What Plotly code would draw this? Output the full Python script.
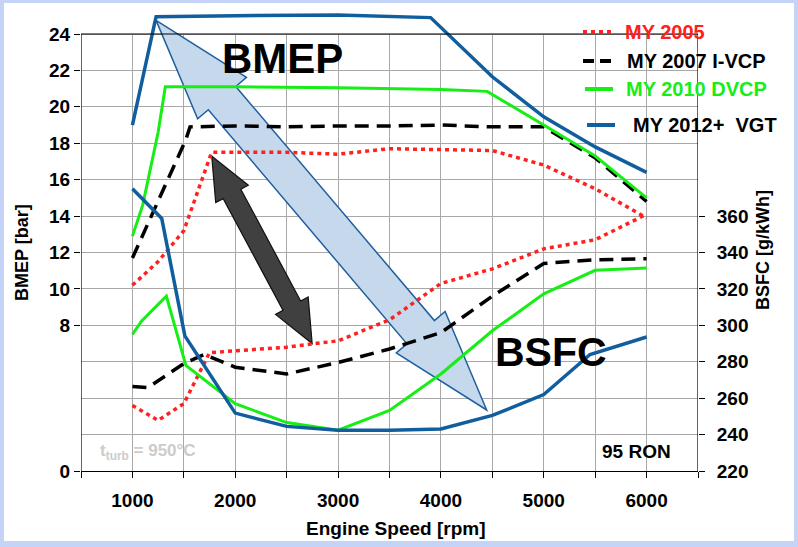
import math
import plotly.graph_objects as go

FONT = "Liberation Sans, Arial, sans-serif"

# ---------------- data ----------------
# BMEP [bar] (left axis)
rpm_bmep_2005 = [1000, 1250, 1500, 1770, 2000, 2500, 3000, 3500, 4000, 4500, 5000, 5500, 6000]
bmep_2005 = [10.2, 11.5, 13.2, 17.5, 17.5, 17.5, 17.4, 17.7, 17.65, 17.6, 16.8, 15.5, 13.9]

rpm_bmep_2007 = [1000, 1520, 1560, 2000, 2500, 3000, 3500, 4000, 4500, 5000, 5500, 6000]
bmep_2007 = [11.7, 18.2, 18.9, 18.95, 18.9, 18.95, 18.95, 19.0, 18.9, 18.9, 17.2, 14.8]

rpm_bmep_2010 = [1000, 1100, 1250, 1320, 2000, 3000, 4000, 4450, 5000, 5500, 6000]
bmep_2010 = [12.9, 14.6, 18.6, 21.1, 21.1, 21.05, 20.95, 20.85, 19.0, 17.3, 15.0]

rpm_bmep_2012 = [1000, 1230, 2000, 3000, 3900, 4500, 5000, 5500, 6000]
bmep_2012 = [19.0, 24.95, 25.0, 25.05, 24.9, 21.65, 19.45, 17.8, 16.4]

# BSFC [g/kWh] (right axis)
rpm_bsfc_2005 = [1000, 1250, 1500, 1750, 2000, 2500, 3000, 3500, 4000, 4500, 5000, 5500, 6000]
bsfc_2005 = [256, 247.8, 257, 285, 286, 288, 291.5, 303, 323, 331, 342, 347, 361]

rpm_bsfc_2007 = [1000, 1150, 1500, 1700, 2000, 2500, 3000, 3500, 4000, 4500, 5000, 5500, 6000]
bsfc_2007 = [266.4, 265.8, 279, 284, 277, 273.3, 279.6, 287, 296, 316, 334, 336, 336.6]

rpm_bsfc_2010 = [1000, 1090, 1330, 1520, 2000, 2500, 3000, 3500, 4000, 4500, 5000, 5500, 6000]
bsfc_2010 = [295, 302.4, 316, 278, 257, 246.6, 242.4, 253.3, 273.3, 297, 317.3, 330.2, 331.5]

rpm_bsfc_2012 = [1000, 1285, 1510, 2000, 2500, 3000, 3500, 4000, 4500, 5000, 5450, 6000]
bsfc_2012 = [375, 358.7, 294.2, 251.8, 244.5, 242.4, 242.4, 243.1, 250.5, 262, 284, 293.6]

series_names = ["MY 2005", "MY 2007 I-VCP", "MY 2010 DVCP", "MY 2012+  VGT"]
series_colors = ["#ff2020", "#000000", "#16ee16", "#115e9e"]
legend_text_colors = ["#ff2020", "#000000", "#16ee16", "#000000"]

x_tick_vals = [1000, 2000, 3000, 4000, 5000, 6000]
y_tick_vals = [0, 8, 10, 12, 14, 16, 18, 20, 22, 24]
y2_tick_vals = [220, 240, 260, 280, 300, 320, 340, 360]

# ---------------- geometry ----------------
W, H = 798, 547
L, R, T, B = 81, 100, 10, 76
plot_w = W - L - R
plot_h = H - T - B
X_RANGE = [500, 6500]
PX_PER_BAR = 437 / 24.0
Y_TOP = plot_h / PX_PER_BAR
Y2_RANGE = [220, 220 + Y_TOP * 10]
BASE = H - B


def d2px(x, y):
    return (L + (x - X_RANGE[0]) / (X_RANGE[1] - X_RANGE[0]) * plot_w,
            BASE - y * PX_PER_BAR)


def px2d(px, py):
    return (X_RANGE[0] + (px - L) / plot_w * (X_RANGE[1] - X_RANGE[0]),
            (BASE - py) / PX_PER_BAR)


def pxp(px, py):
    return (px - L) / plot_w, (BASE - py) / plot_h


def double_arrow(p0, p1, shaft, head, hlen):
    x0, y0 = d2px(*p0)
    x1, y1 = d2px(*p1)
    dx, dy = x1 - x0, y1 - y0
    ln = math.hypot(dx, dy)
    ux, uy = dx / ln, dy / ln
    nx, ny = -uy, ux

    def P(t, s):
        return (x0 + ux * t + nx * s, y0 + uy * t + ny * s)

    pts = [P(0, 0), P(hlen, head / 2), P(hlen, shaft / 2), P(ln - hlen, shaft / 2),
           P(ln - hlen, head / 2), P(ln, 0), P(ln - hlen, -head / 2),
           P(ln - hlen, -shaft / 2), P(hlen, -shaft / 2), P(hlen, -head / 2)]
    dat = [px2d(*p) for p in pts]
    return "M " + " L ".join(f"{a:.2f},{b:.4f}" for a, b in dat) + " Z"


fig = go.Figure()

bmep_sets = [(rpm_bmep_2005, bmep_2005), (rpm_bmep_2007, bmep_2007),
             (rpm_bmep_2010, bmep_2010), (rpm_bmep_2012, bmep_2012)]
bsfc_sets = [(rpm_bsfc_2005, bsfc_2005), (rpm_bsfc_2007, bsfc_2007),
             (rpm_bsfc_2010, bsfc_2010), (rpm_bsfc_2012, bsfc_2012)]
dashes = ["4px,4px", "14px,8px", "solid", "solid"]
widths = [3.5, 3.5, 3, 3.5]

for i in range(4):
    line = dict(color=series_colors[i], width=widths[i], dash=dashes[i])
    fig.add_trace(go.Scatter(x=bmep_sets[i][0], y=bmep_sets[i][1], mode="lines",
                             line=line, name=series_names[i], showlegend=False,
                             yaxis="y"))
    fig.add_trace(go.Scatter(x=bsfc_sets[i][0], y=bsfc_sets[i][1], mode="lines",
                             line=line, name=series_names[i], showlegend=False,
                             yaxis="y2"))

GRID = "#a8a8a8"
tickfont = dict(family=FONT, size=19, color="black", weight="bold")

fig.update_layout(
    width=W, height=H,
    margin=dict(l=L, r=R, t=T, b=B, pad=0),
    paper_bgcolor="#c4d4f8",
    plot_bgcolor="white",
    xaxis=dict(range=X_RANGE, tickvals=x_tick_vals, ticks="outside", ticklen=6,
               tickcolor="black", showgrid=True, gridcolor=GRID, gridwidth=1,
               showline=True, linecolor="black", linewidth=1.2, zeroline=False,
               tickfont=tickfont, ticklabelstandoff=6,
               minor=dict(tick0=500, dtick=500, ticks="outside", ticklen=6,
                          tickcolor="black", showgrid=True, gridcolor=GRID)),
    yaxis=dict(range=[0, Y_TOP], tickvals=y_tick_vals, ticks="outside", ticklen=6,
               tickcolor="black", showgrid=True, gridcolor=GRID, gridwidth=1,
               showline=False, zeroline=False, tickfont=tickfont,
               minor=dict(tick0=0, dtick=2, ticks="", showgrid=True, gridcolor=GRID)),
    yaxis2=dict(range=Y2_RANGE, overlaying="y", side="right", tickvals=y2_tick_vals,
                ticks="outside", ticklen=6, tickcolor="black", showgrid=False,
                showline=False, zeroline=False, tickfont=tickfont,
                ticklabelstandoff=8),
    yaxis3=dict(range=Y2_RANGE, overlaying="y", side="right", tickvals=y2_tick_vals,
                ticks="inside", ticklen=5, tickcolor="black", showgrid=False,
                showline=False, zeroline=False, showticklabels=False),
)

shapes = []
# white card
x0p, y0p = pxp(4, 3)
x1p, y1p = pxp(794, 541)
shapes.append(dict(type="rect", xref="paper", yref="paper", x0=x0p, x1=x1p,
                   y0=y1p, y1=y0p, fillcolor="white", line=dict(width=0), layer="below"))
# hide gridlines above the frame
shapes.append(dict(type="rect", xref="x", yref="y", x0=X_RANGE[0] - 50, x1=X_RANGE[1] + 50,
                   y0=24.02, y1=Y_TOP + 1, fillcolor="white", line=dict(width=0),
                   layer="between"))
# arrows
shapes.append(dict(type="path", xref="x", yref="y",
                   path=double_arrow((1230, 24.75), (4445, 3.35), 36, 64, 102),
                   fillcolor="#c6d9ec", line=dict(color="#1f5f9f", width=1.5),
                   layer="between"))
shapes.append(dict(type="path", xref="x", yref="y",
                   path=double_arrow((1771, 17.3), (2748, 7.0), 20, 37, 43),
                   fillcolor="#404040", line=dict(color="#111111", width=1.2),
                   layer="between"))
# frame lines
for (xa, ya, xb, yb) in [(X_RANGE[0], 0, X_RANGE[0], 24), (X_RANGE[1], 0, X_RANGE[1], 24),
                         (X_RANGE[0], 24, X_RANGE[1], 24)]:
    shapes.append(dict(type="line", xref="x", yref="y", x0=xa, y0=ya, x1=xb, y1=yb,
                       line=dict(color="black", width=1.2), layer="above"))

# legend samples
leg_y = [32, 61, 89, 125]
leg_x0 = [583, 583, 585, 587]
leg_x1 = [612, 613, 613, 615]
leg_dash = ["4px,4px", "11px,6px", "solid", "solid"]
leg_tx = [623, 625, 624, 631]
annotations = []
for i in range(4):
    a0 = pxp(leg_x0[i], leg_y[i])
    a1 = pxp(leg_x1[i], leg_y[i])
    shapes.append(dict(type="line", xref="paper", yref="paper", x0=a0[0], y0=a0[1],
                       x1=a1[0], y1=a1[1],
                       line=dict(color=series_colors[i], width=4, dash=leg_dash[i])))
    tp = pxp(leg_tx[i], leg_y[i])
    annotations.append(dict(xref="paper", yref="paper", x=tp[0], y=tp[1], xanchor="left",
                            yanchor="middle", showarrow=False, text=series_names[i],
                            font=dict(family=FONT, size=20, color=legend_text_colors[i],
                                      weight="bold")))


def txt(px, py, text, size, color="black", xanchor="center", angle=0):
    p = pxp(px, py)
    annotations.append(dict(xref="paper", yref="paper", x=p[0], y=p[1], xanchor=xanchor,
                            yanchor="middle", showarrow=False, text=text, textangle=angle,
                            font=dict(family=FONT, size=size, color=color, weight="bold")))


txt(282, 58, "BMEP", 42)
txt(551, 352, "BSFC", 41)
txt(636, 451, "95 RON", 19)
txt(98, 452, "t<sub>turb</sub> = 950°C", 17, color="#cccccc", xanchor="left")
txt(22, 253, "BMEP [bar]", 18, angle=-90)
txt(763, 250, "BSFC [g/kWh]", 18, angle=-90)
txt(395, 528, "Engine Speed [rpm]", 19)

fig.update_layout(shapes=shapes, annotations=annotations)

fig.write_html("out.html", config={"displayModeBar": False},
               post_script="document.body.style.margin='0';document.body.style.overflow='hidden';")
